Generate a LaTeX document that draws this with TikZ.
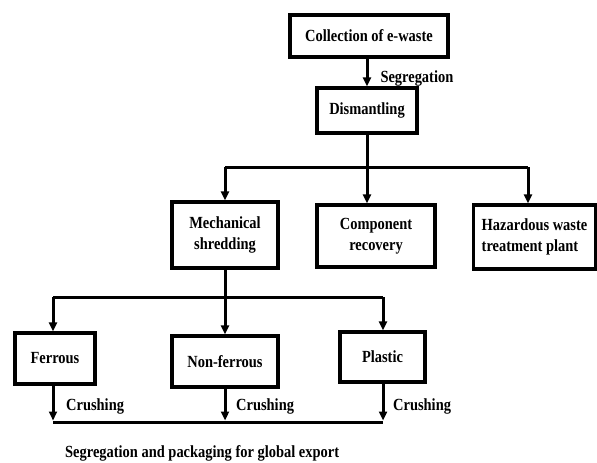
\documentclass[tikz,border=0pt]{standalone}
\usepackage{fontspec}
\setmainfont[FakeStretch=0.85]{Liberation Serif}
\usetikzlibrary{arrows.meta,calc}
\begin{document}
\begin{tikzpicture}[x=1pt,y=-1pt,
  box/.style={draw,line width=3.2pt,align=center,inner sep=2pt,font=\fontsize{17}{21}\selectfont\bfseries},
  lbl/.style={font=\fontsize{17}{21}\selectfont\bfseries,inner sep=0pt},
  conn/.style={line width=3pt},
  arr/.style={line width=3pt,-{Triangle[length=9pt,width=8pt]}}]
\useasboundingbox (0,0) rectangle (597,463);
\node[box,minimum width=158pt,minimum height=42pt] (coll) at (369,36) {Collection of e-waste};
\node[box,minimum width=100pt,minimum height=45pt] (dism) at (367,110.5) {Dismantling};
\node[box,minimum width=106pt,minimum height=66pt] (mech) at (225,235) {Mechanical\\shredding};
\node[box,minimum width=118pt,minimum height=62pt] (comp) at (376,236) {Component\\recovery};
\node[box,align=left,minimum width=122pt,minimum height=64pt] (haz) at (534.5,237) {Hazardous waste\\treatment plant};
\node[box,minimum width=80pt,minimum height=51pt] (ferr) at (55,358.5) {Ferrous};
\node[box,minimum width=106pt,minimum height=51pt] (nonf) at (225,361.5) {Non-ferrous};
\node[box,minimum width=85pt,minimum height=50pt] (plas) at (382.5,357) {Plastic};
\coordinate (j1) at (367,167);
\coordinate (jl) at (225,167);
\coordinate (jr) at (528,167);
\coordinate (k1) at (225,297);
\coordinate (kl) at (53,297);
\coordinate (kr) at (383,297);
\coordinate (bl) at (53,422);
\coordinate (br) at (383,422);
\draw[arr] (coll.south -| dism.north) -- (dism.north)
  node[lbl,pos=0.7,anchor=west,xshift=12pt] (seg) {Segregation};
\draw[conn] (dism.south) -- (j1);
\draw[conn] (jl) -- (jr);
\draw[arr] (jl) -- (mech.north);
\draw[arr] (j1) -- (comp.north -| j1);
\draw[arr] (jr) -- (haz.north -| jr);
\draw[conn] (mech.south) -- (k1);
\draw[conn] (kl) -- (kr);
\draw[arr] (kl) -- (ferr.north -| kl);
\draw[arr] (k1) -- (nonf.north);
\draw[arr] (kr) -- (plas.north -| kr);
\draw[conn] (bl) -- (br);
\draw[arr] (ferr.south -| bl) -- ($(bl)+(0,-1.5)$);
\draw[arr] (nonf.south) -- ($(nonf.south |- bl)+(0,-1.5)$);
\draw[arr] (plas.south -| br) -- ($(br)+(0,-1.5)$);
\node[lbl,anchor=west] (c1) at (66,406) {Crushing};
\node[lbl,anchor=west] (c2) at (236,406) {Crushing};
\node[lbl,anchor=west] (c3) at (393,406) {Crushing};
\node[lbl,anchor=west] (exp) at (65,453) {Segregation and packaging for global export};
\end{tikzpicture}
\end{document}
